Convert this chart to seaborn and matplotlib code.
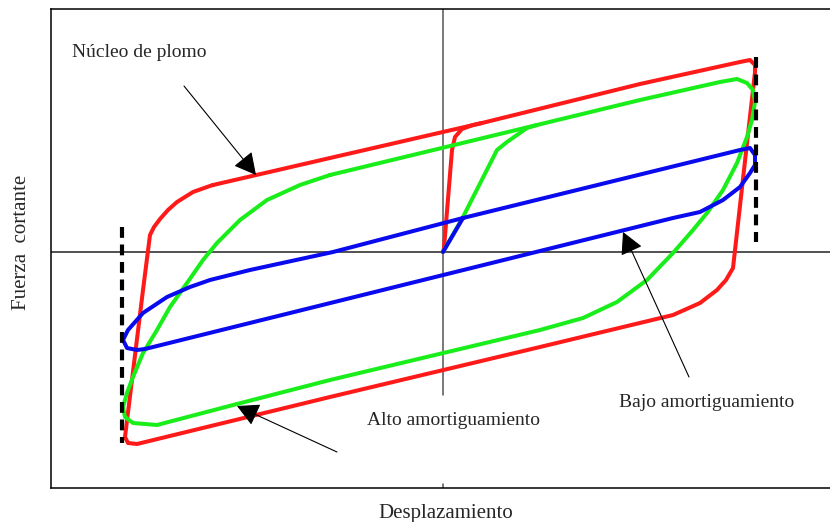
import matplotlib
matplotlib.use("Agg")
import matplotlib.pyplot as plt
import seaborn as sns

# Hysteresis loops: displacement (mm) vs shear force (kN)

# Lead-core bearing (red): initial loading branch, then the full cycle
lead_init_x = [0.0, 0.1, 0.9, 1.2, 1.9, 3.0, 3.9]
lead_init_y = [0.0, 0.4, 10.2, 11.5, 12.3, 12.7, 12.9]
lead_loop_x = [-23.0, -11.3, 3.9, 19.7, 29.7, 30.7, 31.2, 31.2, 29.0, 28.3, 27.4, 25.7, 23.0,
               9.7, -11.3, -30.6, -31.5, -31.8, -30.0, -29.3, -28.9, -28.3, -27.5, -26.6,
               -25.0, -23.6, -23.0]
lead_loop_y = [6.7, 9.4, 12.9, 16.8, 19.0, 19.2, 18.7, 18.0, -1.6, -2.8, -3.8, -5.1, -6.3,
               -9.5, -14.5, -19.2, -19.1, -18.5, -3.8, 1.7, 2.5, 3.3, 4.2, 5.0,
               6.0, 6.5, 6.7]

# High-damping rubber bearing (green)
high_init_x = [0.0, 2.0, 5.4, 6.4, 8.4, 9.4]
high_init_y = [0.0, 3.5, 10.2, 11.0, 12.4, 12.7]
high_loop_x = [-11.3, 9.4, 19.7, 27.7, 29.4, 30.4, 31.0, 31.2, 30.9, 30.4, 29.4, 28.0, 26.4,
               25.0, 23.0, 20.4, 17.4, 14.0, 9.7, -11.3, -20.6, -28.6, -31.0, -31.8,
               -32.0, -31.6, -31.0, -30.0, -28.6, -27.3, -25.6, -24.0, -22.6, -20.3,
               -17.6, -14.3, -11.3]
high_loop_y = [7.7, 12.7, 15.2, 17.0, 17.3, 16.9, 16.2, 15.0, 13.2, 11.5, 8.9, 6.2, 3.9,
               2.2, -0.1, -2.8, -5.0, -6.6, -7.8, -12.8, -15.2, -17.3, -17.1, -16.5,
               -15.5, -14.1, -12.5, -10.1, -7.8, -5.5, -3.1, -0.8, 0.9, 3.2,
               5.2, 6.7, 7.7]

# Low-damping rubber bearing (blue)
low_init_x = [0.0, 2.0]
low_init_y = [0.0, 3.4]
low_loop_x = [2.0, 29.7, 30.7, 31.2, 31.2, 30.7, 29.7, 28.0, 25.7, 23.0, -29.8, -30.6, -31.6,
              -32.0, -31.5, -30.0, -27.6, -25.3, -23.3, -19.3, -11.0, 2.0]
low_loop_y = [3.4, 10.2, 10.4, 9.7, 8.7, 7.9, 6.5, 5.2, 4.0, 3.4, -9.7, -9.8, -9.6,
              -8.8, -7.8, -6.1, -4.5, -3.5, -2.8, -1.8, 0.0, 3.4]

# Displacement limits (dashed)
limit_x = [-32.1, 31.3]
limit_y0 = [-19.1, 1.0]
limit_y1 = [2.5, 19.5]

W, H = 830, 522
sns.set_theme(style="white")
plt.rcParams["font.family"] = ["Liberation Serif", "DejaVu Serif"]

fig = plt.figure(figsize=(W / 100, H / 100), dpi=100)
fig.patch.set_facecolor("white")
ax = fig.add_axes([51 / W, (H - 488) / H, (W - 51) / W, (488 - 9) / H])
ax.set_xlim(-39.2, 38.7)
ax.set_ylim(-23.6, 24.3)

# Reference axes through the origin
ax.axhline(0, color="#222222", lw=1.1, zorder=1)
ax.plot([0, 0], [-14.3, 24.3], color="#555555", lw=1.1, zorder=1)
ax.plot([0, 0], [-23.6, -23.2], color="#555555", lw=1.1, zorder=1)

lw = 2.9
kw = dict(sort=False, estimator=None, ax=ax, linewidth=lw, solid_joinstyle="round",
          solid_capstyle="round", legend=False)
red, green, blue = "#ff1a1a", "#1aee1a", "#0a0aee"
sns.lineplot(x=lead_init_x, y=lead_init_y, color=red, **kw)
sns.lineplot(x=lead_loop_x, y=lead_loop_y, color=red, **kw)
sns.lineplot(x=high_init_x, y=high_init_y, color=green, **kw)
sns.lineplot(x=high_loop_x, y=high_loop_y, color=green, **kw)
sns.lineplot(x=low_init_x, y=low_init_y, color=blue, **kw)
sns.lineplot(x=low_loop_x, y=low_loop_y, color=blue, **kw)

for xv, y0, y1 in zip(limit_x, limit_y0, limit_y1):
    ax.plot([xv, xv], [y1, y0], color="black", lw=3.0, linestyle=(0, (2.6, 1.6)),
            solid_capstyle="butt", dash_capstyle="butt", zorder=5)

# Annotations
arrow = dict(arrowstyle="-|>,head_length=0.68,head_width=0.36", color="black", lw=0.8,
             mutation_scale=20, shrinkA=0, shrinkB=0)
ax.annotate("", xy=(-18.7, 7.7), xytext=(-25.9, 16.6), arrowprops=arrow, zorder=6)
ax.annotate("", xy=(-20.6, -15.4), xytext=(-10.6, -20.0), arrowprops=arrow, zorder=6)
ax.annotate("", xy=(18.0, 2.0), xytext=(24.6, -12.5), arrowprops=arrow, zorder=6)

ax.text(-37.1, 19.5, "Núcleo de plomo", fontsize=14, ha="left", va="baseline")
ax.text(-7.6, -17.3, "Alto amortiguamiento", fontsize=14, ha="left", va="baseline")
ax.text(17.6, -15.5, "Bajo amortiguamiento", fontsize=14, ha="left", va="baseline")

fig.text(21 / W, 1 - 242 / H, "Fuerza  cortante", fontsize=15, rotation=90,
         ha="center", va="center")
fig.text(446 / W, 1 - 518 / H, "Desplazamiento", fontsize=15, ha="center", va="baseline")

ax.set_xticks([])
ax.set_yticks([])
for side in ("left", "bottom", "top"):
    ax.spines[side].set_color("black")
    ax.spines[side].set_linewidth(1.1)
ax.spines["right"].set_visible(False)

fig.savefig("out.png", dpi=100)
